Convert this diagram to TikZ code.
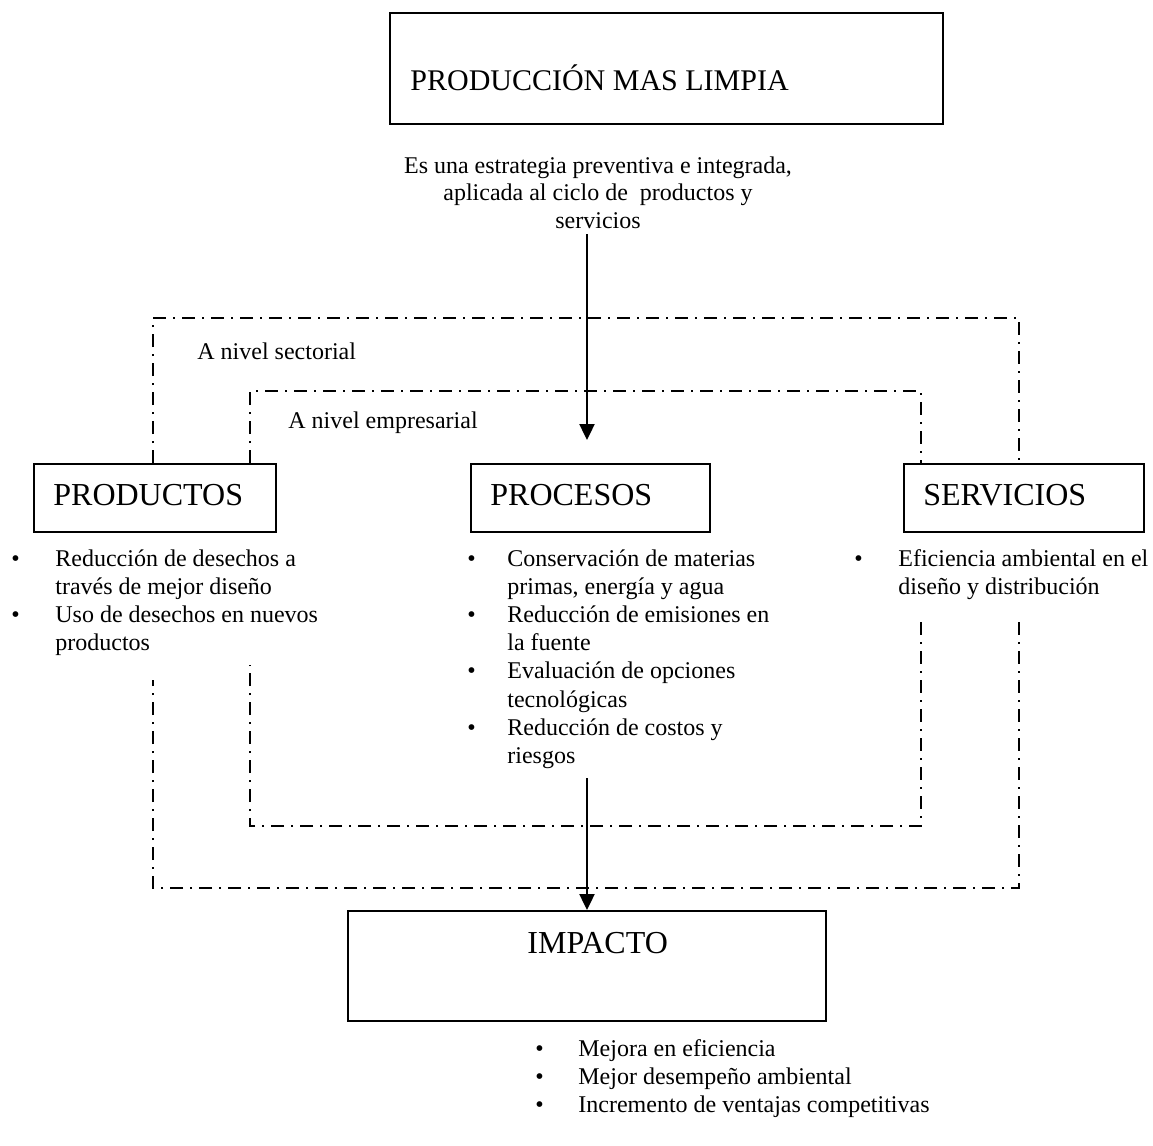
\documentclass[tikz,border=0pt]{standalone}
\usepackage{fontspec}
\setmainfont{Liberation Serif}
\usetikzlibrary{arrows.meta,positioning}

\tikzset{
    marco/.style={draw, line width=1.1pt, inner sep=0pt, anchor=north west},
    titulo/.style={font=\fontsize{16}{19}\selectfont, inner sep=0pt, anchor=base west},
    texto/.style={font=\fontsize{12}{14.1}\selectfont, inner sep=0pt, anchor=base west},
    nivel/.style={line width=0.8pt, dash pattern=on 6.5pt off 3.5pt on 1pt off 3.5pt},
    flecha/.style={line width=1.2pt, -{Triangle[length=8pt,width=7.5pt]}},
}

\begin{document}
\begin{tikzpicture}[x=0.5pt,y=-0.5pt]
            \useasboundingbox (0,0) rectangle (1153,1146);
            % cajas principales
            \node[marco, minimum width=276.5pt, minimum height=55.5pt] (limpia) at (389,12) {};
            \node[titulo, font=\fontsize{15}{18}\selectfont] (limpia-t) at (410,90) {PRODUCCIÓN MAS LIMPIA};
            \node[texto, anchor=base, font=\fontsize{12}{13.8}\selectfont] (definicion) at (598,173)
                {\begin{tabular}[t]{@{}c@{}}Es una estrategia preventiva e integrada,\\aplicada al ciclo de \ productos y\\servicios\end{tabular}};
            \node[marco, minimum width=121pt, minimum height=34pt] (productos) at (33,463) {};
            \node[marco, minimum width=119.5pt, minimum height=34pt] (procesos) at (470,463) {};
            \node[marco, minimum width=120pt, minimum height=34pt] (servicios) at (903,463) {};
            \node[marco, minimum width=239pt, minimum height=55pt] (impacto) at (347,910) {};
            \node[titulo] (productos-t) at ([xshift=10pt,yshift=-21pt]productos.north west) {PRODUCTOS};
            \node[titulo] (procesos-t) at ([xshift=10pt,yshift=-21pt]procesos.north west) {PROCESOS};
            \node[titulo] (servicios-t) at ([xshift=10pt,yshift=-21pt]servicios.north west) {SERVICIOS};
            \node[titulo] (impacto-t) at ([xshift=90pt,yshift=-21.5pt]impacto.north west) {IMPACTO};
            % niveles (lineas de punto y raya)
            \coordinate (sec-no) at (153,318);
            \coordinate (sec-se) at (1019,888);
            \coordinate (emp-no) at (250,391);
            \coordinate (emp-se) at (921,826);
            \draw[nivel] (sec-no |- productos.north) -- (sec-no) -- (sec-no -| sec-se) -- (sec-se |- servicios.north);
            \draw[nivel] (sec-se |- 0,622) -- (sec-se) -- (sec-se -| sec-no) -- (sec-no |- 0,680);
            \draw[nivel] (emp-no |- productos.north) -- (emp-no) -- (emp-no -| emp-se) -- (emp-se |- servicios.north);
            \draw[nivel] (emp-se |- 0,622) -- (emp-se) -- (emp-se -| emp-no) -- (emp-no |- 0,665);
            \node[texto] (sectorial) at (197,359) {A nivel sectorial};
            \node[texto] (empresarial) at (288,428) {A nivel empresarial};
            % flechas
            \coordinate (flecha1) at (587,234);
            \draw[flecha] (flecha1) -- ([yshift=11.5pt]flecha1 |- procesos.north);
            \coordinate (flecha2) at (587,778);
            \draw[flecha] (flecha2) -- (flecha2 |- impacto.north);
            % listas
            \node[texto] (lista-prod) at (11,566) {\begin{tabular}[t]{@{}p{22pt}@{}l@{}}
                \textbullet & Reducción de desechos a\\
                 & través de mejor diseño\\
                \textbullet & Uso de desechos en nuevos\\
                 & productos\end{tabular}};
            \node[texto] (lista-proc) at (467,566) {\begin{tabular}[t]{@{}p{20pt}@{}l@{}}
                \textbullet & Conservación de materias\\
                 & primas, energía y agua\\
                \textbullet & Reducción de emisiones en\\
                 & la fuente\\
                \textbullet & Evaluación de opciones\\
                 & tecnológicas\\
                \textbullet & Reducción de costos y\\
                 & riesgos\end{tabular}};
            \node[texto] (lista-serv) at (854,566) {\begin{tabular}[t]{@{}p{22pt}@{}l@{}}
                \textbullet & Eficiencia ambiental en el\\
                 & diseño y distribución\end{tabular}};
            \node[texto] (lista-imp) at (535,1056) {\begin{tabular}[t]{@{}p{21.5pt}@{}l@{}}
                \textbullet & Mejora en eficiencia\\
                \textbullet & Mejor desempeño ambiental\\
                \textbullet & Incremento de ventajas competitivas\end{tabular}};
\end{tikzpicture}
\end{document}
